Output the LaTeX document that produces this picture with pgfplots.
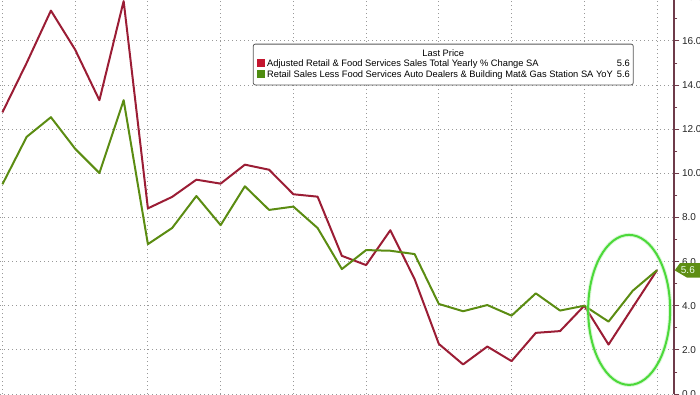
\documentclass[border=0pt]{standalone}
\usepackage{pgfplots}
\pgfplotsset{compat=1.18}
\usepackage{fontspec}
\setmainfont{Liberation Sans}
\definecolor{redl}{HTML}{9B1D35}
\definecolor{greenl}{HTML}{5B8C12}
\definecolor{redsq}{HTML}{C4162F}
\definecolor{greensq}{HTML}{4E8C10}
\definecolor{axisc}{HTML}{6E3B4A}
\definecolor{ellc}{HTML}{4CD93A}
\definecolor{tagc}{HTML}{5E8E14}

\pgfplotstableread{
i red green
0 12.76 9.50
1 15.00 11.65
2 17.37 12.54
3 15.60 11.11
4 13.31 10.01
5 17.80 13.31
6 8.41 6.79
7 8.93 7.52
8 9.71 8.97
9 9.53 7.65
10 10.39 9.41
11 10.16 8.34
12 9.05 8.49
13 8.94 7.52
14 6.26 5.66
15 5.84 6.52
16 7.42 6.49
17 5.21 6.34
18 2.27 4.08
19 1.34 3.75
20 2.15 4.03
21 1.49 3.55
22 2.77 4.56
23 2.85 3.78
24 4.00 4.00
25 2.24 3.28
26 3.93 4.68
27 5.61 5.61
}\datatable

\begin{document}
\begin{tikzpicture}
\begin{axis}[
 at={(0,0)}, anchor=south west,
 scale only axis, width=505.5pt, height=295.5pt,
 xmin=-0.1, xmax=27.7, ymin=0, ymax=17.85,
 axis line style={draw=none},
 xtick={0,3,...,27}, xticklabels={},
 x tick style={draw=none},
 ytick={0,2,...,16}, minor ytick={1,3,...,17},
 ytick pos=right, yticklabel pos=right,
 yticklabel style={font=\fontsize{7.5}{9}\selectfont, text=black!85, xshift=-1.5pt},
 /pgf/number format/.cd, fixed, fixed zerofill, precision=1, assume math mode=true, /pgfplots/.cd,
 tick align=outside,
 major tick length=4pt, minor tick length=2.5pt,
 y tick style={axisc, line width=0.6pt},
 grid=major,
 major grid style={dash pattern=on 0.8pt off 2.2pt, gray!80, line width=0.6pt},
 clip=false,
]
\addplot[redl, line width=1.5pt, line join=round] table[x=i, y=red] {\datatable};
\addplot[greenl, line width=1.5pt, line join=round] table[x=i, y=green] {\datatable};

\draw[axisc, line width=0.8pt] (rel axis cs:1,0) -- (rel axis cs:1,1);

\draw[ellc!40, line width=3pt, opacity=0.5] (axis cs:25.85,3.81) ellipse [x radius=30.75pt, y radius=56.25pt];
\draw[ellc, line width=1.5pt] (axis cs:25.85,3.81) ellipse [x radius=30.75pt, y radius=56.25pt];

\fill[tagc] ([xshift=0.5pt]axis cs:27.7,5.6) -- ++(4pt,5.5pt) -- ++(15pt,0) -- ++(0,-11pt) -- ++(-15pt,0) -- cycle;
\node[anchor=west, text=white!92!green, font=\fontsize{7.5}{9}\selectfont, inner sep=0pt] at ([xshift=5pt]axis cs:27.7,5.6) {5.6};

\node[anchor=west, text=black!85, font=\fontsize{7.5}{9}\selectfont, inner sep=0pt] at ([xshift=6.5pt]axis cs:27.7,18) {18.0};

\node[anchor=north west, draw=black!65, fill=white, rounded corners=1.5pt, inner xsep=2.5pt, inner ysep=3pt,
      font=\fontsize{7}{8.5}\selectfont, line width=0.6pt]
  at (axis cs:10.33,15.87) {%
  \begin{tabular}{@{}l@{\hspace{3pt}}r@{}}
  \multicolumn{2}{c}{Last Price}\\[-0.5pt]
  {\color{redsq}\rule{6pt}{6pt}} Adjusted Retail \& Food Services Sales Total Yearly \% Change SA & 5.6\\[-0.5pt]
  {\color{greensq}\rule{6pt}{6pt}} Retail Sales Less Food Services Auto Dealers \& Building Mat\& Gas Station SA YoY & 5.6
  \end{tabular}};
\end{axis}
\pgfresetboundingbox
\path[use as bounding box] (0,0) rectangle (525pt,295.5pt);
\end{tikzpicture}
\end{document}
